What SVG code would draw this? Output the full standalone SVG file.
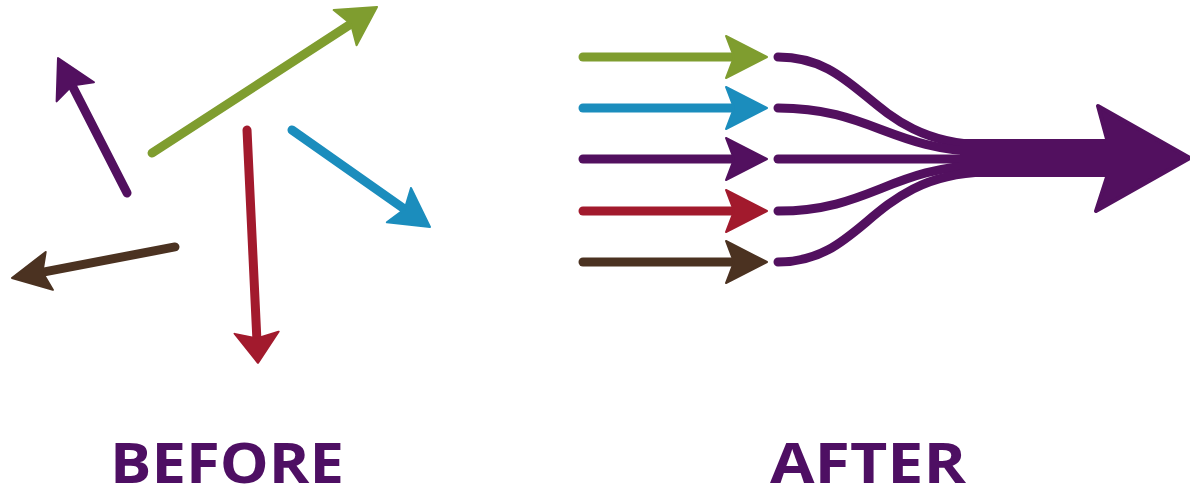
<svg xmlns="http://www.w3.org/2000/svg" xmlns:xlink="http://www.w3.org/1999/xlink" width="1190" height="490" viewBox="0 0 1190 490">
<style>
.shaft{fill:none;stroke-width:9;stroke-linecap:round}
.head{stroke-width:2;stroke-linejoin:round}
.purple{stroke:#52105f;fill:#52105f}
.green{stroke:#7f9d2f;fill:#7f9d2f}
.blue{stroke:#1b8dbd;fill:#1b8dbd}
.red{stroke:#a21a2d;fill:#a21a2d}
.brown{stroke:#4b3221;fill:#4b3221}
.curve{fill:none;stroke:#52105f;stroke-width:9;stroke-linecap:round}
.label{font-family:"Open Sans","DejaVu Sans",sans-serif;font-weight:700;font-size:56px;fill:#4e0f63}
</style>
<defs>
<path id="head" d="M0,0 L-38,-21 L-31,0 L-38,21 Z"/>
<path id="head2" d="M0,0 L-41,-21 L-33,0 L-41,21 Z"/>
</defs>
<rect width="1190" height="490" fill="#ffffff"/>
<g id="before">
<g id="b-purple" class="purple" transform="translate(58,58) rotate(-117.1)">
<line class="shaft" x1="-151.6" y1="0" x2="-25" y2="0"/>
<use class="head" xlink:href="#head"/>
</g>
<g id="b-green" class="green" transform="translate(377,7) rotate(-33)">
<line class="shaft" x1="-268.2" y1="0" x2="-25" y2="0"/>
<use class="head" xlink:href="#head"/>
</g>
<g id="b-red" class="red" transform="translate(258,363) rotate(87.3)">
<line class="shaft" x1="-233.3" y1="0" x2="-22" y2="0"/>
<use class="head" xlink:href="#head" transform="scale(0.8,1.05)"/>
</g>
<g id="b-blue" class="blue" transform="translate(430,227) rotate(35.1)">
<line class="shaft" x1="-168.7" y1="0" x2="-25" y2="0"/>
<use class="head" xlink:href="#head"/>
</g>
<g id="b-brown" class="brown" transform="translate(12,278) rotate(169.2)">
<line class="shaft" x1="-165.9" y1="0" x2="-25" y2="0"/>
<use class="head" xlink:href="#head" transform="scale(1,0.92)"/>
</g>
</g>
<g id="after-inputs">
<g id="a-green" class="green" transform="translate(767,57)">
<line class="shaft" x1="-184" y1="0" x2="-28" y2="0"/>
<use class="head" xlink:href="#head2"/>
</g>
<g id="a-blue" class="blue" transform="translate(767,108)">
<line class="shaft" x1="-184" y1="0" x2="-28" y2="0"/>
<use class="head" xlink:href="#head2"/>
</g>
<g id="a-purple" class="purple" transform="translate(767,159)">
<line class="shaft" x1="-184" y1="0" x2="-28" y2="0"/>
<use class="head" xlink:href="#head2"/>
</g>
<g id="a-red" class="red" transform="translate(767,211)">
<line class="shaft" x1="-184" y1="0" x2="-28" y2="0"/>
<use class="head" xlink:href="#head2"/>
</g>
<g id="a-brown" class="brown" transform="translate(767,262)">
<line class="shaft" x1="-184" y1="0" x2="-28" y2="0"/>
<use class="head" xlink:href="#head2"/>
</g>
</g>
<g id="connectors">
<path class="curve" d="M778,57 C865,57 870,143 985,145"/>
<path class="curve" d="M778,108 C870,108 890,150 985,152"/>
<path class="curve" d="M778,159 L985,159"/>
<path class="curve" d="M778,211 C870,211 890,167 985,165"/>
<path class="curve" d="M778,262 C865,262 870,175 985,172"/>
</g>
<g id="big-arrow">
<rect x="960" y="139" width="150" height="38" fill="#52105f"/>
<path d="M1190,158 L1098,106 L1107,139 L1107,177 L1096,211 Z" fill="#52105f" stroke="#52105f" stroke-width="4" stroke-linejoin="round"/>
</g>
<g id="labels">
<text class="label" x="110" y="483" textLength="234" lengthAdjust="spacingAndGlyphs">BEFORE</text>
<text class="label" x="770" y="483" textLength="196" lengthAdjust="spacingAndGlyphs">AFTER</text>
</g>
</svg>
